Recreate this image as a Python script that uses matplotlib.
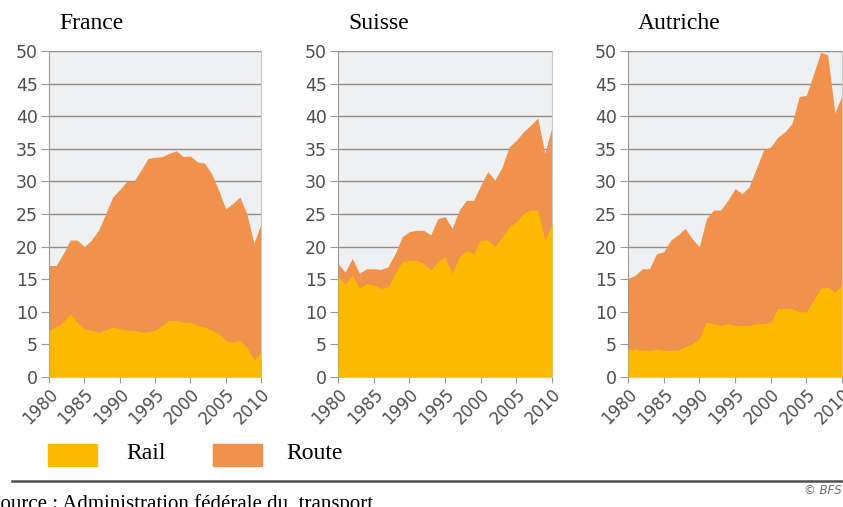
import numpy as np
import matplotlib.pyplot as plt
from matplotlib.patches import Rectangle
from matplotlib.lines import Line2D

years = np.arange(1980, 2011)

countries = ['France', 'Suisse', 'Autriche']

# total (rail + route) and rail share
france_total = [17.1, 17.1, 18.9, 21.0, 21.0, 20.0, 21.0, 22.5, 25.0, 27.6,
                28.7, 30.0, 30.0, 31.7, 33.5, 33.7, 33.8, 34.3, 34.7, 33.8,
                33.9, 33.0, 32.8, 31.2, 28.7, 25.8, 26.6, 27.6, 25.0, 20.5, 23.5]
france_rail = [7.2, 7.7, 8.4, 9.7, 8.4, 7.4, 7.2, 6.9, 7.2, 7.7,
               7.4, 7.2, 7.2, 6.9, 6.9, 7.2, 7.9, 8.7, 8.7, 8.4,
               8.4, 7.9, 7.7, 7.2, 6.7, 5.6, 5.4, 5.6, 4.6, 2.6, 3.8]

suisse_total = [17.4, 16.1, 18.2, 15.9, 16.6, 16.6, 16.5, 16.9, 18.9, 21.5,
                22.3, 22.5, 22.5, 21.8, 24.3, 24.6, 22.8, 25.6, 27.1, 27.1,
                29.4, 31.5, 30.2, 32.2, 35.3, 36.3, 37.6, 38.6, 39.7, 34.3, 38.4]
suisse_rail = [15.4, 14.3, 15.6, 13.6, 14.3, 14.1, 13.6, 13.8, 15.9, 17.7,
               17.9, 17.9, 17.4, 16.4, 17.7, 18.4, 15.9, 18.4, 19.4, 18.9,
               21.0, 21.0, 20.0, 21.5, 23.0, 23.8, 25.1, 25.6, 25.6, 21.0, 23.5]

autriche_total = [15.1, 15.6, 16.6, 16.6, 18.9, 19.2, 21.0, 21.8, 22.8, 21.2,
                  20.0, 24.3, 25.6, 25.6, 27.1, 28.9, 28.1, 29.2, 32.0, 34.8,
                  35.3, 36.8, 37.6, 38.9, 43.0, 43.2, 46.4, 49.8, 49.4, 40.5, 43.2]
autriche_rail = [4.3, 4.3, 4.1, 4.1, 4.3, 4.1, 4.1, 4.1, 4.6, 5.1,
                 5.9, 8.4, 8.2, 7.9, 8.2, 7.9, 7.9, 7.9, 8.2, 8.2,
                 8.4, 10.5, 10.5, 10.5, 10.0, 10.0, 11.8, 13.6, 13.8, 13.0, 14.1]

totals = [france_total, suisse_total, autriche_total]
rails = [france_rail, suisse_rail, autriche_rail]

rail_color = '#fbb900'
route_color = '#f0914c'
tick_color = '#4e4e4e'

W, H = 843, 507
fig = plt.figure(figsize=(W / 100, H / 100), dpi=100)

# pixel boxes of the three panels (left, right)
panel_x = [(49, 261), (338, 552), (628, 842)]
top_px, bottom_px = 51, 377

for (x0, x1), name, total, rail in zip(panel_x, countries, totals, rails):
    ax = fig.add_axes([x0 / W, 1 - bottom_px / H, (x1 - x0) / W, (bottom_px - top_px) / H])
    ax.set_facecolor('#eff0f1')
    ax.fill_between(years, 0, total, color=route_color, lw=0, zorder=2)
    ax.fill_between(years, 0, rail, color=rail_color, lw=0, zorder=3)
    ax.set_xlim(1980, 2010)
    ax.set_ylim(0, 50)
    ax.set_yticks(np.arange(0, 51, 5))
    ax.set_xticks(np.arange(1980, 2011, 5))
    ax.grid(axis='y', color='#8f8f8f', lw=1.0, zorder=1)
    ax.set_axisbelow(True)
    for side in ['top', 'bottom']:
        ax.spines[side].set_visible(False)
    ax.spines['left'].set_color('#9a9a9a')
    ax.spines['right'].set_color('#c8c8c8')
    ax.tick_params(axis='y', length=6, color='#9a9a9a', labelcolor=tick_color,
                   labelsize=12.5, pad=2)
    ax.tick_params(axis='x', length=4, color='#9a9a9a', labelcolor=tick_color,
                   labelsize=12, pad=2)
    for lab in ax.get_xticklabels():
        lab.set_rotation(45)
        lab.set_ha('right')
        lab.set_rotation_mode('anchor')
    fig.text((x0 + 10) / W, 1 - 29 / H, name, family='Liberation Serif',
             fontsize=17, ha='left', va='baseline')

# legend
fig.patches.append(Rectangle((48 / W, 1 - 466 / H), 49 / W, 22 / H,
                             transform=fig.transFigure, color=rail_color))
fig.text(126 / W, 1 - 459 / H, 'Rail', family='Liberation Serif', fontsize=17,
         va='baseline')
fig.patches.append(Rectangle((213 / W, 1 - 466 / H), 49 / W, 22 / H,
                             transform=fig.transFigure, color=route_color))
fig.text(286 / W, 1 - 459 / H, 'Route', family='Liberation Serif', fontsize=17,
         va='baseline')

# separator line and footer
fig.lines.append(Line2D([12 / W, 1], [1 - 481 / H, 1 - 481 / H],
                        transform=fig.transFigure, color='#505050', lw=1.8))
fig.text(-11 / W, 1 - 509 / H, 'Source : Administration fédérale du  transport',
         family='Liberation Serif', fontsize=15, va='baseline')
fig.text(842 / W, 1 - 494 / H, '© BFS', fontsize=8.5, style='italic',
         color='#707070', ha='right', va='baseline')

fig.savefig('out.png', dpi=100)
